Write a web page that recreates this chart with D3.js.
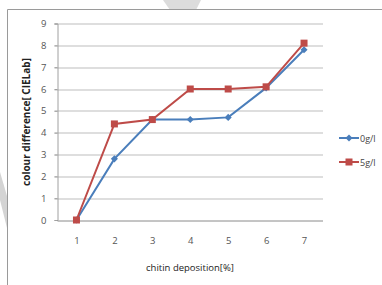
<!DOCTYPE html>
<html>
<head>
<meta charset="utf-8">
<script src="https://cdn.jsdelivr.net/npm/d3@7"></script>
<style>
  body { margin: 0; background: #fff; }
  text { font-family: "Open Sans", "DejaVu Sans", sans-serif; }
</style>
</head>
<body>
<div id="chart"></div>
<script>
// chart data
const categories = ["1", "2", "3", "4", "5", "6", "7"];
const yTicks = [0, 1, 2, 3, 4, 5, 6, 7, 8, 9];
const series0 = [0, 2.8, 4.6, 4.6, 4.7, 6.05, 7.8];   // 0g/l
const series5 = [0, 4.4, 4.6, 6.0, 6.0, 6.1, 8.1];    // 5g/l
const seriesNames = ["0g/l", "5g/l"];

const width = 382, height = 285;
const margin = { top: 23.5, bottom: 65, left: 57.5, right: 59 };

const svg = d3.select("#chart").append("svg")
  .attr("width", width)
  .attr("height", height);

// faint watermark shapes behind the chart
svg.append("path")
  .attr("d", "M163,0 L201,0 L196,10 L170,10 Z")
  .attr("fill", "#dcdcdc");
svg.append("path")
  .attr("d", "M0,172 L0,200 L7,228 L7,196 Z")
  .attr("fill", "#d4d4d4");

// outer frame (top and left edges visible)
svg.append("path")
  .attr("d", "M7.5,285 L7.5,9.5 L382,9.5")
  .attr("fill", "none")
  .attr("stroke", "#9a9a9a")
  .attr("stroke-width", 1);

const g = svg.append("g").attr("transform", `translate(${margin.left},${margin.top})`);
const w = width - margin.left - margin.right;
const h = height - margin.top - margin.bottom;

const x = d3.scalePoint().domain(categories).range([0, w]).padding(0.5);
const y = d3.scaleLinear().domain([0, 9]).range([h, 0]);

// gridlines
g.selectAll("line.grid")
  .data(yTicks.filter(d => d > 0))
  .join("line")
  .attr("class", "grid")
  .attr("x1", -3).attr("x2", w)
  .attr("y1", d => Math.round(y(d)) + 0.5)
  .attr("y2", d => Math.round(y(d)) + 0.5)
  .attr("stroke", "#bdbdbd")
  .attr("stroke-width", 1);

// y axis
const yAxis = d3.axisLeft(y).tickValues(yTicks).tickSize(3).tickPadding(8);
const gy = g.append("g").call(yAxis);
gy.select(".domain").attr("stroke", "#a0a0a0");
gy.selectAll(".tick line").attr("stroke", "#a0a0a0");
gy.selectAll(".tick text")
  .attr("fill", "#555")
  .style("font-size", "9.5px");

// x axis
const xAxis = d3.axisBottom(x).tickSize(0).tickPadding(16);
const gx = g.append("g").attr("transform", `translate(0,${Math.round(h) + 0.5})`).call(xAxis);
gx.select(".domain").attr("stroke", "#8a8a8a").attr("d", `M0,0H${w}`);
gx.selectAll(".tick text")
  .attr("fill", "#555")
  .style("font-size", "9.5px");

// axis titles
svg.append("text")
  .attr("x", 190).attr("y", 271)
  .attr("text-anchor", "middle")
  .attr("fill", "#222")
  .style("font-size", "9.5px")
  .text("chitin deposition[%]");

svg.append("text")
  .attr("transform", "translate(30,122) rotate(-90)")
  .attr("text-anchor", "middle")
  .attr("fill", "#222")
  .style("font-size", "10px")
  .style("font-weight", "bold")
  .text("colour difference[ CIELab]");

const line = d3.line()
  .x((d, i) => x(categories[i]))
  .y(d => y(d));

// 0g/l series (blue, diamonds)
g.append("path")
  .datum(series0)
  .attr("d", line)
  .attr("fill", "none")
  .attr("stroke", "#4a7ebb")
  .attr("stroke-width", 2);

g.selectAll("path.dia")
  .data(series0)
  .join("path")
  .attr("class", "dia")
  .attr("transform", (d, i) => `translate(${x(categories[i])},${y(d)}) rotate(45)`)
  .attr("d", "M-2.5,-2.5H2.5V2.5H-2.5Z")
  .attr("fill", "#4a7ebb");

// 5g/l series (red, squares)
g.append("path")
  .datum(series5)
  .attr("d", line)
  .attr("fill", "none")
  .attr("stroke", "#be4b48")
  .attr("stroke-width", 2);

g.selectAll("rect.sq")
  .data(series5)
  .join("rect")
  .attr("class", "sq")
  .attr("x", (d, i) => x(categories[i]) - 3.5)
  .attr("y", d => y(d) - 3.5)
  .attr("width", 7).attr("height", 7)
  .attr("fill", "#be4b48");

// legend
const legend = svg.append("g").attr("transform", "translate(339,138)");
const colors = ["#4a7ebb", "#be4b48"];
seriesNames.forEach((name, i) => {
  const lg = legend.append("g").attr("transform", `translate(0,${i * 24})`);
  lg.append("line")
    .attr("x1", 0).attr("x2", 20)
    .attr("stroke", colors[i]).attr("stroke-width", 2);
  if (i === 0) {
    lg.append("path")
      .attr("transform", "translate(10,0) rotate(45)")
      .attr("d", "M-2.5,-2.5H2.5V2.5H-2.5Z")
      .attr("fill", colors[i]);
  } else {
    lg.append("rect")
      .attr("x", 6.5).attr("y", -3.5)
      .attr("width", 7).attr("height", 7)
      .attr("fill", colors[i]);
  }
  lg.append("text")
    .attr("x", 21).attr("y", 3.5)
    .attr("fill", "#444")
    .style("font-size", "9px")
    .text(name);
});
</script>
</body>
</html>
